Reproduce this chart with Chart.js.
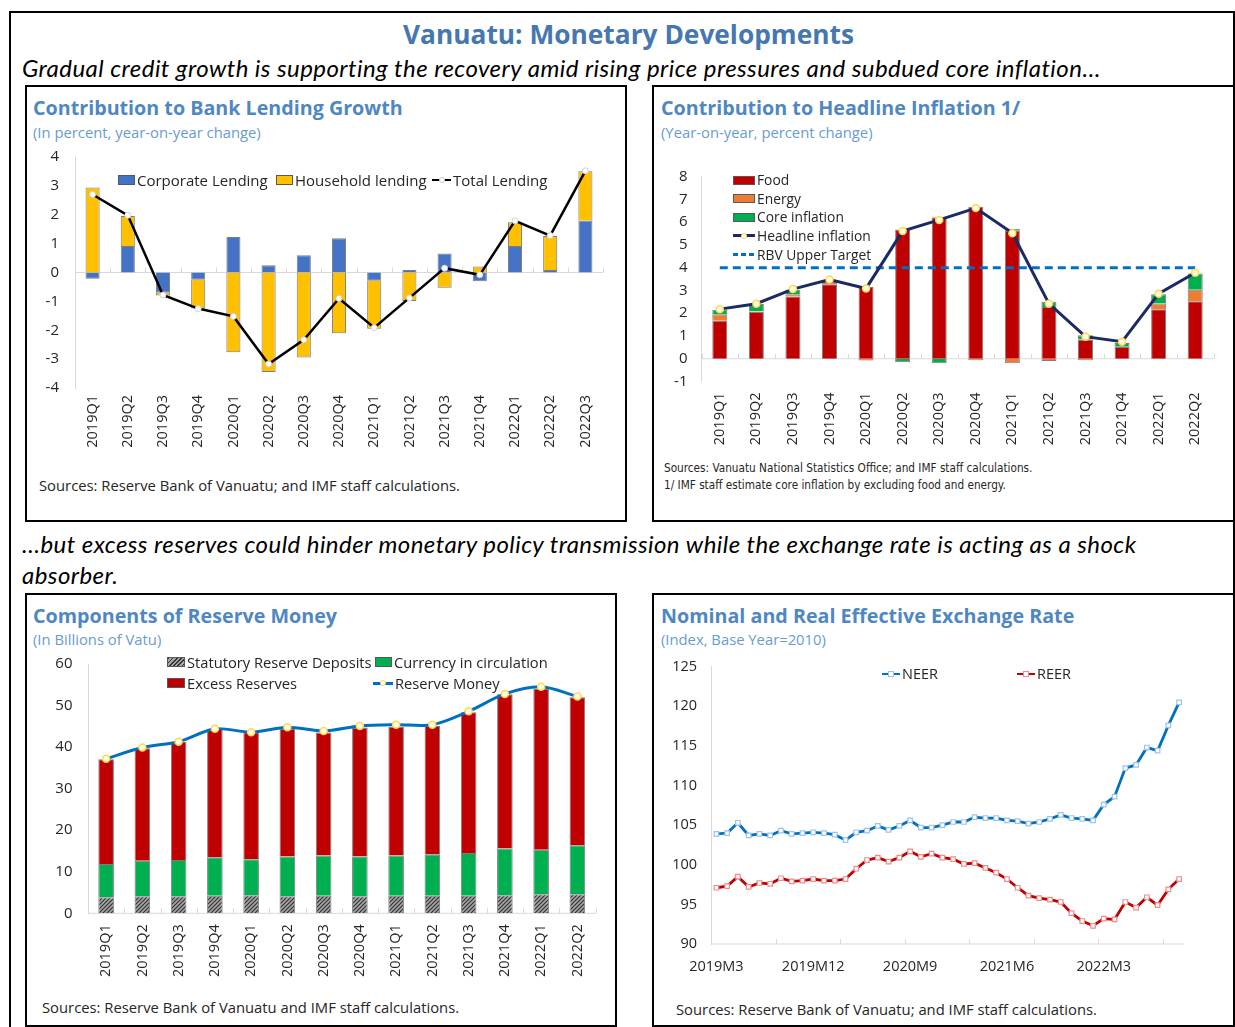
<!DOCTYPE html>
<html>
<head>
<meta charset="utf-8">
<title>Vanuatu: Monetary Developments</title>
<script src="https://cdn.jsdelivr.net/npm/chart.js"></script>
<style>
  body { margin:0; width:1235px; height:1027px; overflow:hidden; background:#fff; position:relative; font-family:'Open Sans', sans-serif; color:#262626; }
  .t { position:absolute; white-space:nowrap; }
  .frame { position:absolute; left:9px; top:11px; width:1226px; height:1100px; border:2px solid #000; box-sizing:border-box; }
  .panel { position:absolute; border:2px solid #000; box-sizing:border-box; background:#fff; }
  .main { font-weight:700; font-size:26.3px; line-height:34px; color:#4677b0; }
  .nar { font-family:Lato, sans-serif; font-style:italic; font-size:24px; letter-spacing:0.45px; line-height:31px; color:#000; }
  .ttl { font-weight:700; font-size:19.7px; line-height:26px; color:#4f87c2; }
  .sub { font-size:14.8px; line-height:20px; color:#6a9bd1; }
  .src { font-size:14.8px; line-height:18px; }
  .src2 { font-family:'Liberation Sans Narrow','DejaVu Sans Condensed',sans-serif; font-size:11.7px; line-height:17px; }
  canvas { position:absolute; }
  .lg { position:absolute; display:flex; align-items:center; white-space:nowrap; font-size:15px; line-height:20px; height:20px; }
</style>
</head>
<body>
<div class="frame"></div>
<div class="t main" style="left:403px;top:17px">Vanuatu: Monetary Developments</div>
<div class="t nar" style="left:22px;top:52px">Gradual credit growth is supporting the recovery amid rising price pressures and subdued core inflation…</div>

<div class="panel" style="left:25px;top:85px;width:602px;height:437px"></div>
<div class="panel" style="left:652px;top:85px;width:583px;height:437px"></div>
<div class="t nar" style="left:22px;top:528px">…but excess reserves could hinder monetary policy transmission while the exchange rate is acting as a shock<br>absorber.</div>
<div class="panel" style="left:25px;top:593px;width:592px;height:434px"></div>
<div class="panel" style="left:652px;top:593px;width:583px;height:434px"></div>

<div class="t ttl" style="left:33px;top:95px">Contribution to Bank Lending Growth</div>
<div class="t sub" style="left:33px;top:122px">(In percent, year-on-year change)</div>
<div class="t src" style="left:39px;top:476px">Sources: Reserve Bank of Vanuatu; and IMF staff calculations.</div>

<div class="t ttl" style="left:661px;top:95px">Contribution to Headline Inflation 1/</div>
<div class="t sub" style="left:661px;top:122px">(Year-on-year, percent change)</div>
<div class="t src2" style="left:664px;top:460px">Sources: Vanuatu National Statistics Office; and IMF staff calculations.<br>1/ IMF staff estimate core inflation by excluding food and energy.</div>

<div class="t ttl" style="left:33px;top:603px">Components of Reserve Money</div>
<div class="t sub" style="left:33px;top:629px">(In Billions of Vatu)</div>
<div class="t src" style="left:42px;top:998px">Sources: Reserve Bank of Vanuatu and IMF staff calculations.</div>

<div class="t ttl" style="left:661px;top:603px">Nominal and Real Effective Exchange Rate</div>
<div class="t sub" style="left:661px;top:629px">(Index, Base Year=2010)</div>
<div class="t src" style="left:676px;top:1000px">Sources: Reserve Bank of Vanuatu; and IMF staff calculations.</div>

<canvas id="lending" width="590" height="330" style="left:30px;top:140px"></canvas>
<canvas id="inflation" width="570" height="300" style="left:660px;top:160px"></canvas>
<canvas id="reserves" width="575" height="345" style="left:35px;top:645px"></canvas>
<canvas id="exchange" width="570" height="340" style="left:660px;top:650px"></canvas>

<script>
// lending growth contributions, 2019Q1-2022Q3
const lendQuarters = ["2019Q1","2019Q2","2019Q3","2019Q4","2020Q1","2020Q2","2020Q3","2020Q4","2021Q1","2021Q2","2021Q3","2021Q4","2022Q1","2022Q2","2022Q3"];
const corporateLending = [-0.22, 0.92, -0.70, -0.25, 1.23, 0.25, 0.60, 1.19, -0.29, 0.09, 0.66, -0.30, 0.92, 0.09, 1.80];
const householdLending = [2.94, 1.04, -0.10, -1.00, -2.76, -3.45, -2.94, -2.10, -1.66, -0.99, -0.53, 0.21, 0.82, 1.17, 1.71];
const totalLending = [2.70, 1.98, -0.78, -1.25, -1.52, -3.17, -2.33, -0.90, -1.91, -0.88, 0.15, -0.08, 1.79, 1.28, 3.52];

// headline inflation contributions, 2019Q1-2022Q2
const cpiQuarters = ["2019Q1","2019Q2","2019Q3","2019Q4","2020Q1","2020Q2","2020Q3","2020Q4","2021Q1","2021Q2","2021Q3","2021Q4","2022Q1","2022Q2"];
const food = [1.67, 2.07, 2.73, 3.27, 3.15, 5.68, 6.21, 6.68, 5.63, 2.27, 0.85, 0.53, 2.18, 2.53];
const energy = [0.28, 0.02, 0.10, 0.10, -0.08, 0.00, 0.03, -0.07, -0.20, -0.10, -0.07, 0.00, 0.25, 0.50];
const coreInflation = [0.20, 0.32, 0.20, 0.05, 0.00, -0.15, -0.20, 0.00, 0.07, 0.24, 0.18, 0.16, 0.40, 0.72];
const headline = [2.18, 2.42, 3.06, 3.48, 3.09, 5.61, 6.10, 6.62, 5.52, 2.42, 0.97, 0.75, 2.86, 3.78];
const rbvTarget = [4, 4, 4, 4, 4, 4, 4, 4, 4, 4, 4, 4, 4, 4];

// reserve money components, billions of vatu
const rmQuarters = ["2019Q1","2019Q2","2019Q3","2019Q4","2020Q1","2020Q2","2020Q3","2020Q4","2021Q1","2021Q2","2021Q3","2021Q4","2022Q1","2022Q2"];
const statutory = [3.85, 4.10, 4.10, 4.25, 4.33, 4.10, 4.25, 4.10, 4.25, 4.25, 4.25, 4.33, 4.57, 4.57];
const currency = [8.02, 8.57, 8.73, 9.22, 8.67, 9.60, 9.65, 9.60, 9.65, 9.95, 10.25, 11.27, 10.73, 11.83];
const excess = [25.18, 27.03, 28.37, 30.88, 30.60, 30.70, 29.60, 31.00, 31.00, 30.90, 33.90, 37.10, 38.70, 35.60];
const reserveMoney = [37.2, 39.9, 41.3, 44.4, 43.6, 44.8, 43.9, 45.1, 45.4, 45.4, 48.6, 52.8, 54.5, 52.2];

// effective exchange rates, monthly
const months = ["2019M3","2019M4","2019M5","2019M6","2019M7","2019M8","2019M9","2019M10","2019M11","2019M12",
  "2020M1","2020M2","2020M3","2020M4","2020M5","2020M6","2020M7","2020M8","2020M9","2020M10","2020M11","2020M12",
  "2021M1","2021M2","2021M3","2021M4","2021M5","2021M6","2021M7","2021M8","2021M9","2021M10","2021M11","2021M12",
  "2022M1","2022M2","2022M3","2022M4","2022M5","2022M6","2022M7","2022M8","2022M9","2022M10"];
const neer = [103.9, 104.0, 105.3, 103.7, 103.9, 103.7, 104.3, 103.9, 104.0, 104.1, 104.0, 103.8, 103.1, 104.1, 104.3,
  104.9, 104.4, 104.9, 105.6, 104.7, 104.7, 105.0, 105.4, 105.4, 106.0, 105.9, 105.9, 105.6, 105.5, 105.2, 105.4,
  105.8, 106.3, 105.9, 105.8, 105.6, 107.6, 108.6, 112.2, 112.6, 114.8, 114.4, 117.6, 120.5];
const reer = [97.1, 97.3, 98.5, 97.2, 97.7, 97.6, 98.3, 97.9, 98.0, 98.2, 98.0, 98.0, 98.2, 99.5, 100.6,
  100.9, 100.4, 100.9, 101.7, 101.0, 101.4, 100.9, 100.7, 100.1, 100.2, 99.6, 99.0, 98.2, 97.1, 96.1, 95.8,
  95.6, 95.3, 93.9, 92.9, 92.3, 93.2, 93.1, 95.3, 94.6, 95.9, 94.9, 96.9, 98.2];

Chart.defaults.font.family = "'Open Sans', sans-serif";
Chart.defaults.color = "#262626";

const barEdge = "rgba(70,70,70,0.7)";

// category axis line with small upward tick marks between categories
const axisTicks = {
  id: "axisTicks",
  beforeDatasetsDraw(chart, args, opts) {
    const x = chart.scales.x, y = chart.scales.y, ctx = chart.ctx;
    const yPix = y.getPixelForValue(opts.value);
    const step = x.getPixelForValue(1) - x.getPixelForValue(0);
    const first = x.getPixelForValue(0) - step / 2;
    ctx.save();
    ctx.strokeStyle = "#d9d9d9";
    ctx.lineWidth = 1;
    ctx.beginPath();
    ctx.moveTo(chart.chartArea.left, yPix);
    ctx.lineTo(chart.chartArea.right, yPix);
    for (let i = 0; i <= chart.data.labels.length; i++) {
      if (i % opts.every) continue;
      const px = Math.round(first + i * step) + 0.5;
      ctx.moveTo(px, yPix);
      ctx.lineTo(px, yPix - 5);
    }
    ctx.stroke();
    ctx.restore();
  }
};

function yAxis(min, max, step, width, pad, stacked, size) {
  return {
    min, max, stacked,
    ticks: { stepSize: step, padding: pad, font: { size: size || 15 } },
    grid: { display: false, drawTicks: false },
    border: { display: true, color: "#d9d9d9", width: 1 },
    afterFit(s) {
      s.width = width;
      // keep the plot top/bottom where the layout padding puts it
      s.paddingTop = 0;
      s.paddingBottom = 0;
    }
  };
}

function xRotated(height, pad) {
  return {
    stacked: true,
    grid: { display: false, drawTicks: false },
    border: { display: false },
    ticks: { autoSkip: false, minRotation: 90, maxRotation: 90, padding: pad, font: { size: 14.5 } },
    afterFit(s) { s.height = height; }
  };
}

function hatch() {
  const c = document.createElement("canvas");
  c.width = c.height = 4;
  const g = c.getContext("2d");
  g.fillStyle = "#a6a6a6";
  g.fillRect(0, 0, 4, 4);
  g.strokeStyle = "#333";
  g.lineWidth = 1.2;
  g.beginPath();
  g.moveTo(0, 4); g.lineTo(4, 0);
  g.moveTo(-1, 1); g.lineTo(1, -1);
  g.moveTo(3, 5); g.lineTo(5, 3);
  g.stroke();
  return g.createPattern(c, "repeat");
}

// chart 1: bank lending
new Chart(document.getElementById("lending"), {
  type: "bar",
  data: {
    labels: lendQuarters,
    datasets: [
      { type: "line", label: "Total Lending", data: totalLending, stack: "total", order: 0,
        borderColor: "#000", borderWidth: 2.5, tension: 0,
        pointRadius: 3, pointBackgroundColor: "#fff", pointBorderColor: "#d0d0d0", pointBorderWidth: 1 },
      { label: "Corporate Lending", data: corporateLending, order: 1,
        backgroundColor: "#4472c4", borderColor: barEdge, borderWidth: 1 },
      { label: "Household lending", data: householdLending, order: 1,
        backgroundColor: "#ffc000", borderColor: barEdge, borderWidth: 1 }
    ]
  },
  options: {
    responsive: false, animation: false,
    layout: { padding: { left: 10, top: 17, right: 17, bottom: 12 } },
    datasets: { bar: { categoryPercentage: 1, barPercentage: 0.4 } },
    plugins: { legend: { display: false }, tooltip: { enabled: false }, axisTicks: { value: 0, every: 1 } },
    scales: { x: xRotated(70, 7), y: yAxis(-4, 4, 1, 35, 16, true) }
  },
  plugins: [axisTicks]
});

// chart 2: headline inflation
new Chart(document.getElementById("inflation"), {
  type: "bar",
  data: {
    labels: cpiQuarters,
    datasets: [
      { type: "line", label: "Headline inflation", data: headline, stack: "headline", order: 0,
        borderColor: "#1b2a66", borderWidth: 3, tension: 0,
        pointRadius: 3.5, pointBackgroundColor: "#fffbe8", pointBorderColor: "#ffd84d", pointBorderWidth: 1.5 },
      { type: "line", label: "RBV Upper Target", data: rbvTarget, stack: "target", order: 1,
        borderColor: "#0070c0", borderWidth: 3, borderDash: [8, 5], pointRadius: 0 },
      { label: "Food", data: food, order: 2, backgroundColor: "#c00000", borderColor: barEdge, borderWidth: 1 },
      { label: "Energy", data: energy, order: 2, backgroundColor: "#ed7d31", borderColor: barEdge, borderWidth: 1 },
      { label: "Core inflation", data: coreInflation, order: 2, backgroundColor: "#00b050", borderColor: barEdge, borderWidth: 1 }
    ]
  },
  options: {
    responsive: false, animation: false,
    layout: { padding: { left: 11.5, top: 16.7, right: 16.5, bottom: 13.5 } },
    datasets: { bar: { categoryPercentage: 1, barPercentage: 0.41 } },
    plugins: { legend: { display: false }, tooltip: { enabled: false }, axisTicks: { value: 0, every: 1 } },
    scales: { x: xRotated(65, 11), y: yAxis(-1, 8, 1, 30, 14, true) }
  },
  plugins: [axisTicks]
});

// chart 3: reserve money
new Chart(document.getElementById("reserves"), {
  type: "bar",
  data: {
    labels: rmQuarters,
    datasets: [
      { type: "line", label: "Reserve Money", data: reserveMoney, stack: "rm", order: 0,
        borderColor: "#0070c0", borderWidth: 3, tension: 0.3,
        pointRadius: 3.5, pointBackgroundColor: "#fffbe8", pointBorderColor: "#ffd84d", pointBorderWidth: 1.5 },
      { label: "Statutory Reserve Deposits", data: statutory, order: 1, backgroundColor: hatch(), borderColor: barEdge, borderWidth: 1 },
      { label: "Currency in circulation", data: currency, order: 1, backgroundColor: "#00b050", borderColor: barEdge, borderWidth: 1 },
      { label: "Excess Reserves", data: excess, order: 1, backgroundColor: "#c00000", borderColor: barEdge, borderWidth: 1 }
    ]
  },
  options: {
    responsive: false, animation: false,
    layout: { padding: { left: 18, top: 19, right: 14.5, bottom: 6.7 } },
    datasets: { bar: { categoryPercentage: 1, barPercentage: 0.43 } },
    plugins: { legend: { display: false }, tooltip: { enabled: false }, axisTicks: { value: 0, every: 1 } },
    scales: { x: xRotated(70, 11), y: yAxis(0, 60, 10, 35, 15.5, true) }
  },
  plugins: [axisTicks]
});

// chart 4: NEER / REER
new Chart(document.getElementById("exchange"), {
  type: "line",
  data: {
    labels: months,
    datasets: [
      { label: "NEER", data: neer, borderColor: "#0070c0", borderWidth: 2.8, tension: 0,
        pointStyle: "rect", pointRadius: 3.2, pointBackgroundColor: "#fff", pointBorderColor: "#9dc3e6", pointBorderWidth: 1.2 },
      { label: "REER", data: reer, borderColor: "#c00000", borderWidth: 2.8, tension: 0,
        pointStyle: "rect", pointRadius: 3.2, pointBackgroundColor: "#fff", pointBorderColor: "#f08c8c", pointBorderWidth: 1.2 }
    ]
  },
  options: {
    responsive: false, animation: false,
    layout: { padding: { left: 11, top: 16.7, right: 45.5, bottom: 16 } },
    plugins: { legend: { display: false }, tooltip: { enabled: false }, axisTicks: { value: 90, every: 6 } },
    scales: {
      x: {
        offset: true,
        grid: { display: false, drawTicks: false },
        border: { display: false },
        ticks: {
          autoSkip: false, minRotation: 0, maxRotation: 0, padding: 14, font: { size: 14.5 },
          callback(v, i) { return i % 9 === 0 ? this.getLabelForValue(v) : ""; }
        },
        afterFit(s) { s.height = 30; }
      },
      y: yAxis(90, 125, 5, 40, 14, false, 14.5)
    }
  },
  plugins: [axisTicks]
});

// legends (drawn as html so they can sit inside the plot areas)
function legendItem(s) {
  const el = document.createElement("div");
  el.className = "lg";
  el.style.left = s.x + "px";
  el.style.top = (s.y - 10) + "px";
  if (s.size) el.style.fontSize = s.size + "px";
  const sw = document.createElement("span");
  if (s.kind === "box") {
    sw.style.cssText = `display:inline-block;box-sizing:border-box;width:${s.w}px;height:${s.h}px;background:${s.fill};border:1px solid #595959;margin-right:${s.gap}px`;
  } else {
    sw.style.cssText = `position:relative;display:inline-block;width:${s.w}px;height:12px;margin-right:${s.gap}px`;
    const ln = document.createElement("span");
    const bg = s.dash ? `repeating-linear-gradient(90deg, ${s.color} 0 5px, transparent 5px 8px)` : s.color;
    ln.style.cssText = `position:absolute;left:0;right:0;top:${6 - s.lw / 2}px;height:${s.lw}px;background:${bg}`;
    sw.appendChild(ln);
    if (s.marker) {
      const m = s.msize;
      const mk = document.createElement("span");
      mk.style.cssText = `position:absolute;box-sizing:border-box;left:${s.w / 2 - m / 2}px;top:${6 - m / 2}px;width:${m}px;height:${m}px;background:#fff;border:1px solid ${s.mcolor};border-radius:${s.marker === "circle" ? "50%" : "0"}`;
      sw.appendChild(mk);
    }
  }
  el.appendChild(sw);
  el.appendChild(document.createTextNode(s.label));
  document.body.appendChild(el);
}

const hatchCss = "repeating-linear-gradient(135deg, #333 0 1.2px, #a6a6a6 1.2px 3px)";
[
  { x: 118, y: 180, kind: "box", w: 17, h: 10, gap: 2, fill: "#4472c4", label: "Corporate Lending" },
  { x: 276, y: 180, kind: "box", w: 17, h: 10, gap: 2, fill: "#ffc000", label: "Household lending" },
  { x: 432, y: 180, kind: "line", w: 19, gap: 2, lw: 2.5, color: "#000", marker: "circle", msize: 6, mcolor: "#ccc", label: "Total Lending" },

  { x: 733, y: 180, kind: "box", w: 22, h: 9, gap: 2, fill: "#c00000", label: "Food", size: 13.8 },
  { x: 733, y: 198.5, kind: "box", w: 22, h: 9, gap: 2, fill: "#ed7d31", label: "Energy", size: 13.8 },
  { x: 733, y: 217, kind: "box", w: 22, h: 9, gap: 2, fill: "#00b050", label: "Core inflation", size: 13.8 },
  { x: 733, y: 235.5, kind: "line", w: 22, gap: 2, lw: 3, color: "#1b2a66", marker: "circle", msize: 6, mcolor: "#ffd84d", label: "Headline inflation", size: 13.8 },
  { x: 733, y: 254.5, kind: "line", w: 22, gap: 2, lw: 3, color: "#0070c0", dash: true, label: "RBV Upper Target", size: 13.8 },

  { x: 167, y: 662, kind: "box", w: 18, h: 10, gap: 2, fill: hatchCss, label: "Statutory Reserve Deposits", size: 14.7 },
  { x: 375, y: 662, kind: "box", w: 17, h: 10, gap: 2, fill: "#00b050", label: "Currency in circulation", size: 14.7 },
  { x: 167, y: 683, kind: "box", w: 18, h: 10, gap: 2, fill: "#c00000", label: "Excess Reserves", size: 14.7 },
  { x: 373, y: 683, kind: "line", w: 20, gap: 2, lw: 3, color: "#0070c0", marker: "circle", msize: 6, mcolor: "#ffd84d", label: "Reserve Money", size: 14.7 },

  { x: 882, y: 674, kind: "line", w: 18, gap: 2, lw: 2.8, color: "#0070c0", marker: "rect", msize: 6, mcolor: "#9dc3e6", label: "NEER", size: 14.5 },
  { x: 1017, y: 674, kind: "line", w: 18, gap: 2, lw: 2.8, color: "#c00000", marker: "rect", msize: 6, mcolor: "#f08c8c", label: "REER", size: 14.5 }
].forEach(legendItem);
</script>
</body>
</html>
